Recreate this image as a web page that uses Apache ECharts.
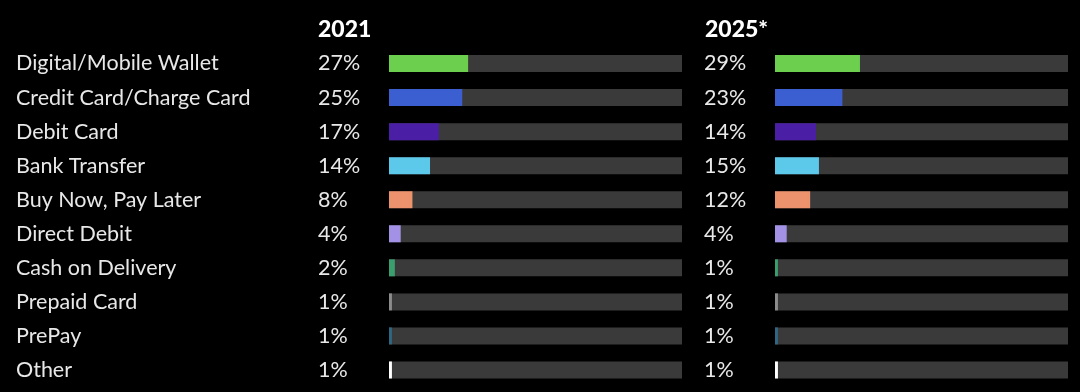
<!DOCTYPE html>
<html><head><meta charset="utf-8">
<script src="https://cdn.jsdelivr.net/npm/echarts@6/dist/echarts.min.js"></script>
<style>html,body{margin:0;padding:0;background:#000;}#c{width:1080px;height:392px;}</style>
</head><body><div id="c"></div>
<script>
const categories = ['Digital/Mobile Wallet','Credit Card/Charge Card','Debit Card','Bank Transfer','Buy Now, Pay Later','Direct Debit','Cash on Delivery','Prepaid Card','PrePay','Other'];
const values2021 = [27,25,17,14,8,4,2,1,1,1];
const values2025 = [29,23,14,15,12,4,1,1,1,1];
const colors = ['#6ccf4e','#3b5ed0','#4a1fa6','#5cc8ea','#ec926c','#a291e4','#3a9e6e','#8c8c8c','#2f6683','#ffffff'];
const headers = ['2021','2025*'];

const chart = echarts.init(document.getElementById('c'));
const font = 'Lato';
const gridTop = 46.5, gridBottom = 5;
function mkSeries(vals, idx){
  return {
    type:'bar', xAxisIndex:idx, yAxisIndex:idx, barWidth:17,
    showBackground:true, backgroundStyle:{color:'#3a3a3a'},
    data: vals.map((v,i)=>({value:v, itemStyle:{color:colors[i]}})),
    label:{show:true, position:[-71,'50%'], verticalAlign:'middle', align:'left',
      formatter: p=>p.value+'%', color:'#e8e8e8', fontSize:21.5, fontFamily:font},
    silent:true, animation:false
  };
}
chart.setOption({
  backgroundColor:'#000',
  animation:false,
  title: headers.map((h,i)=>({text:h, left: i===0?318:705, top:18, padding:0,
    textStyle:{color:'#ffffff', fontSize:23, fontWeight:900, fontFamily:font}})),
  grid:[{left:389, width:293, top:gridTop, bottom:gridBottom},{left:775, width:293, top:gridTop, bottom:gridBottom}],
  xAxis:[0,1].map(i=>({type:'value', gridIndex:i, min:0, max:100, show:false})),
  yAxis:[0,1].map(i=>({type:'category', gridIndex:i, data:categories, inverse:true,
    axisLine:{show:false}, axisTick:{show:false}, splitLine:{show:false},
    axisLabel:{show:i===0, align:'left', margin:373, color:'#e8e8e8', fontSize:21.5, fontFamily:font}})),
  series:[mkSeries(values2021,0), mkSeries(values2025,1)]
});
</script></body></html>
